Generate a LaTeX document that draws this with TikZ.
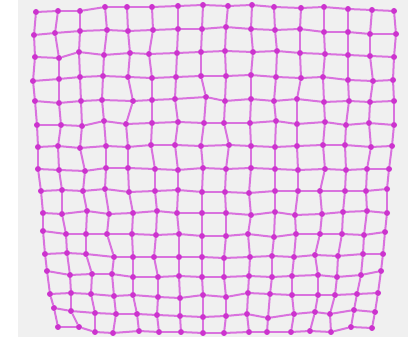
\documentclass[tikz,border=0pt]{standalone}
\usepackage{tikz}
\usetikzlibrary{positioning}
\definecolor{bggrey}{RGB}{240,240,240}
\definecolor{meshpink}{RGB}{204,51,206}
\definecolor{linkpink}{RGB}{214,92,220}

\begin{document}
\begin{tikzpicture}[
		x=1pt,
		y=-1pt,
		meshdot/.style={circle, fill=meshpink, inner sep=0pt, minimum size=6pt},
		meshlink/.style={draw=linkpink, line width=2pt, opacity=0.85}
		]
		% Background
		\useasboundingbox (0,0) rectangle (408,337);
		\fill[white] (0,0) rectangle (18,337);
		\fill[bggrey] (18,0) rectangle (408,337);
		
		% Mesh nodes, one row at a time
		\foreach \x/\y [count=\c from 0] in {36/12,58/11,80/11,105/7,127/7,152/7,178/6,203/5,228/6,252/5,274/7,301/8,324/7,348/9,372/10,394/11}{
			\node[meshdot] (n-0-\c) at (\x,\y) {};
		}
		\foreach \x/\y [count=\c from 0] in {34/35,55/33,80/31,107/30,128/31,153/30,178/29,202/29,226/27,251/29,275/30,300/29,324/32,348/32,370/34,396/34}{
			\node[meshdot] (n-1-\c) at (\x,\y) {};
		}
		\foreach \x/\y [count=\c from 0] in {35/57,59/58,79/52,104/55,130/53,149/54,177/53,201/52,225/51,253/52,277/51,300/53,325/54,348/55,370/56,394/57}{
			\node[meshdot] (n-2-\c) at (\x,\y) {};
		}
		\foreach \x/\y [count=\c from 0] in {33/81,59/79,80/77,103/76,128/77,152/78,176/77,201/76,226/76,251/75,276/77,301/78,323/77,348/80,373/81,393/80}{
			\node[meshdot] (n-3-\c) at (\x,\y) {};
		}
		\foreach \x/\y [count=\c from 0] in {35/101,59/103,81/101,102/100,133/101,152/100,175/99,206/97,225/101,251/99,274/101,297/99,324/102,349/101,370/102,394/101}{
			\node[meshdot] (n-4-\c) at (\x,\y) {};
		}
		\foreach \x/\y [count=\c from 0] in {37/125,61/125,82/126,104/121,126/124,152/123,178/122,204/123,224/123,250/123,276/121,297/124,325/122,346/125,369/123,394/125}{
			\node[meshdot] (n-5-\c) at (\x,\y) {};
		}
		\foreach \x/\y [count=\c from 0] in {38/147,58/146,80/148,106/146,128/147,151/145,175/145,201/146,229/145,251/146,275/147,297/146,323/145,345/145,371/147,392/146}{
			\node[meshdot] (n-6-\c) at (\x,\y) {};
		}
		\foreach \x/\y [count=\c from 0] in {38/169,59/170,85/171,106/168,128/168,155/169,178/170,203/168,226/169,251/168,275/169,298/170,325/169,346/170,367/169,389/169}{
			\node[meshdot] (n-7-\c) at (\x,\y) {};
		}
		\foreach \x/\y [count=\c from 0] in {41/191,62/190,83/191,105/189,129/192,155/191,178/190,202/192,225/192,249/193,275/191,298/191,320/191,345/191,366/191,387/189}{
			\node[meshdot] (n-8-\c) at (\x,\y) {};
		}
		\foreach \x/\y [count=\c from 0] in {43/213,62/214,87/211,109/214,133/213,157/211,177/213,202/213,226/213,251/215,275/212,295/215,322/214,343/212,367/211,387/213}{
			\node[meshdot] (n-9-\c) at (\x,\y) {};
		}
		\foreach \x/\y [count=\c from 0] in {43/231,66/234,86/234,107/234,132/234,156/235,179/234,202/236,226/236,248/234,274/237,296/234,320/234,342/234,364/235,385/232}{
			\node[meshdot] (n-10-\c) at (\x,\y) {};
		}
		\foreach \x/\y [count=\c from 0] in {45/254,67/253,86/254,114/257,133/257,154/257,179/257,202/257,224/258,250/257,272/256,294/257,315/255,338/256,363/254,383/254}{
			\node[meshdot] (n-11-\c) at (\x,\y) {};
		}
		\foreach \x/\y [count=\c from 0] in {47/271,70/275,92/274,112/274,133/277,158/277,179/276,202/277,224/277,249/276,272/277,292/276,318/275,337/277,361/275,381/271}{
			\node[meshdot] (n-12-\c) at (\x,\y) {};
		}
		\foreach \x/\y [count=\c from 0] in {50/294,71/293,91/294,114/296,133/295,158/297,180/298,203/295,226/297,248/293,270/294,292/295,318/295,335/295,357/294,378/293}{
			\node[meshdot] (n-13-\c) at (\x,\y) {};
		}
		\foreach \x/\y [count=\c from 0] in {54/308,71/311,95/313,116/314,137/314,157/315,180/316,203/317,226/316,247/314,268/318,294/314,315/312,330/314,354/310,375/312}{
			\node[meshdot] (n-14-\c) at (\x,\y) {};
		}
		\foreach \x/\y [count=\c from 0] in {58/327,79/327,95/332,113/333,139/331,159/332,181/332,203/333,224/333,249/332,267/332,291/332,310/331,331/332,351/327,372/328}{
			\node[meshdot] (n-15-\c) at (\x,\y) {};
		}
		
		% Horizontal links
		\foreach \r in {0,...,15}{
			\foreach \c [count=\cc] in {0,...,14}{
				\draw[meshlink] (n-\r-\c) -- (n-\r-\cc);
			}
		}
		
		% Vertical links
		\foreach \c in {0,...,15}{
			\foreach \r [count=\rr] in {0,...,14}{
				\draw[meshlink] (n-\r-\c) -- (n-\rr-\c);
			}
		}
		
	\end{tikzpicture}
\end{document}
